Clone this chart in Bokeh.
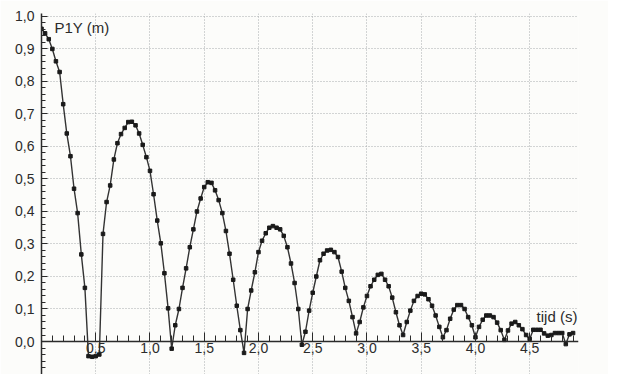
from bokeh.plotting import figure
from bokeh.models import Range1d, FixedTicker, CustomJSTickFormatter, Label
from bokeh.embed import file_html
from bokeh.resources import INLINE

# time (s), sampled video frames
t_s = [
    0.000, 0.033, 0.067, 0.100, 0.133, 0.167, 0.200, 0.233, 0.267, 0.300,
    0.333, 0.367, 0.400, 0.433, 0.467, 0.500, 0.533, 0.567, 0.600, 0.633,
    0.667, 0.700, 0.733, 0.767, 0.800, 0.833, 0.867, 0.900, 0.933, 0.967,
    1.000, 1.033, 1.067, 1.100, 1.133, 1.167, 1.200, 1.233, 1.267, 1.300,
    1.333, 1.367, 1.400, 1.433, 1.467, 1.500, 1.533, 1.567, 1.600, 1.633,
    1.667, 1.700, 1.733, 1.767, 1.800, 1.833, 1.867, 1.900, 1.933, 1.967,
    2.000, 2.033, 2.067, 2.100, 2.133, 2.167, 2.200, 2.233, 2.267, 2.300,
    2.333, 2.367, 2.400, 2.433, 2.467, 2.500, 2.533, 2.567, 2.600, 2.633,
    2.667, 2.700, 2.733, 2.767, 2.800, 2.833, 2.867, 2.900, 2.933, 2.967,
    3.000, 3.033, 3.067, 3.100, 3.133, 3.167, 3.200, 3.233, 3.267, 3.300,
    3.333, 3.367, 3.400, 3.433, 3.467, 3.500, 3.533, 3.567, 3.600, 3.633,
    3.667, 3.700, 3.733, 3.767, 3.800, 3.833, 3.867, 3.900, 3.933, 3.967,
    4.000, 4.033, 4.067, 4.100, 4.133, 4.167, 4.200, 4.233, 4.267, 4.300,
    4.333, 4.367, 4.400, 4.433, 4.467, 4.500, 4.533, 4.567, 4.600, 4.633,
    4.667, 4.700, 4.733, 4.767, 4.800, 4.833, 4.867, 4.900,
]

# P1Y (m), height
p1y_m = [
    0.962, 0.948, 0.930, 0.900, 0.862, 0.829, 0.730, 0.640, 0.570, 0.470,
    0.395, 0.268, 0.165, -0.045, -0.047, -0.045, -0.040, 0.331, 0.429, 0.480,
    0.560, 0.610, 0.638, 0.657, 0.675, 0.676, 0.665, 0.640, 0.605, 0.567,
    0.525, 0.453, 0.372, 0.302, 0.210, 0.102, -0.022, 0.050, 0.100, 0.165,
    0.225, 0.290, 0.345, 0.400, 0.440, 0.475, 0.490, 0.488, 0.465, 0.435,
    0.395, 0.340, 0.270, 0.190, 0.110, 0.035, -0.035, 0.100, 0.157, 0.213,
    0.275, 0.310, 0.333, 0.350, 0.355, 0.350, 0.345, 0.325, 0.290, 0.240,
    0.180, 0.100, -0.010, 0.030, 0.095, 0.150, 0.200, 0.250, 0.270, 0.280,
    0.282, 0.275, 0.260, 0.215, 0.165, 0.125, 0.075, 0.025, 0.060, 0.105,
    0.140, 0.170, 0.190, 0.205, 0.208, 0.190, 0.170, 0.135, 0.090, 0.050,
    0.020, 0.060, 0.095, 0.125, 0.140, 0.147, 0.145, 0.130, 0.110, 0.080,
    0.045, 0.013, 0.035, 0.070, 0.098, 0.112, 0.112, 0.100, 0.075, 0.050,
    0.013, 0.045, 0.067, 0.080, 0.080, 0.075, 0.058, 0.035, 0.005, 0.034,
    0.055, 0.060, 0.050, 0.038, 0.020, 0.008, 0.036, 0.036, 0.036, 0.025,
    0.018, 0.020, 0.026, 0.026, 0.026, -0.008, 0.022, 0.026,
]

x_major_ticks = [0.5, 1.0, 1.5, 2.0, 2.5, 3.0, 3.5, 4.0, 4.5]
y_major_ticks = [0.0, 0.1, 0.2, 0.3, 0.4, 0.5, 0.6, 0.7, 0.8, 0.9, 1.0]
x_minor_ticks = [round(i * 0.1, 2) for i in range(1, 50)]
y_minor_ticks = [round(-0.1 + i * 0.02, 2) for i in range(0, 56)]

y_label = "P1Y (m)"
x_label = "tijd (s)"

FONT = "Liberation Sans"
INK = "#2b2b2b"
BG = "#fcfcfa"

p = figure(
    width=608, height=374,
    x_range=Range1d(0, 4.95), y_range=Range1d(-0.1015, 1.009),
    output_backend="svg", toolbar_location=None,
    min_border_left=41, min_border_right=30, min_border_top=13, min_border_bottom=0,
    background_fill_color=BG, border_fill_color=BG,
)
p.outline_line_color = None

fmt = CustomJSTickFormatter(code="return tick.toFixed(1).replace('.', ',');")

# x axis crossing at y = 0
xa = p.xaxis[0]
xa.fixed_location = 0
xa.ticker = FixedTicker(ticks=x_major_ticks, minor_ticks=x_minor_ticks)
xa.formatter = fmt
xa.major_tick_in = 9
xa.major_tick_out = 0
xa.minor_tick_in = 6
xa.minor_tick_out = 0
xa.major_label_standoff = 1
xa.axis_line_color = INK
xa.axis_line_width = 1.5
xa.major_tick_line_color = INK
xa.minor_tick_line_color = INK
xa.major_label_text_font = FONT
xa.major_label_text_font_size = "14px"
xa.major_label_text_color = INK

ya = p.yaxis[0]
ya.ticker = FixedTicker(ticks=y_major_ticks, minor_ticks=y_minor_ticks)
ya.formatter = fmt
ya.major_tick_in = 6
ya.major_tick_out = 0
ya.minor_tick_in = 4
ya.minor_tick_out = 0
ya.major_label_standoff = 7
ya.axis_line_color = INK
ya.axis_line_width = 1.5
ya.major_tick_line_color = INK
ya.minor_tick_line_color = INK
ya.major_label_text_font = FONT
ya.major_label_text_font_size = "14px"
ya.major_label_text_color = INK

for g in (p.xgrid[0], p.ygrid[0]):
    g.grid_line_color = "#a9acae"
    g.grid_line_dash = "1 2"
    g.grid_line_width = 1

p.line(t_s, p1y_m, line_color="#333333", line_width=1.4)
p.scatter(t_s, p1y_m, marker="square", size=3.5, color="#1a1a1a")

p.add_layout(Label(x=0.12, y=0.992, text=y_label, text_baseline="top",
                   text_font=FONT, text_font_size="15px", text_color=INK))
p.add_layout(Label(x=4.94, y=0.052, text=x_label, text_baseline="bottom",
                   text_align="right", text_font=FONT, text_font_size="15px",
                   text_color=INK))

open("out.html", "w").write(file_html(p, INLINE))
